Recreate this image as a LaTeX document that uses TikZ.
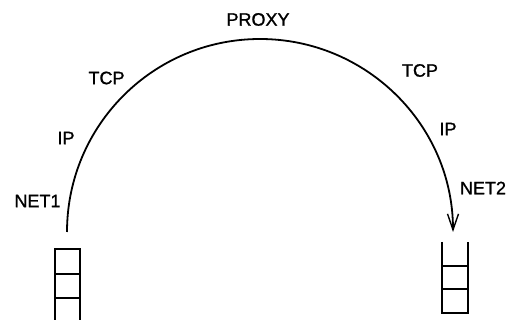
\documentclass[tikz,border=0pt]{standalone}
\usepackage{fontspec}
\setmainfont{Liberation Sans}[FakeBold=1.2]
\usetikzlibrary{arrows.meta}
\tikzset{
  lbl/.style={inner sep=0pt, font=\fontsize{18}{20}\selectfont},
  arcline/.style={line width=1.8pt},
  stackline/.style={line width=1.3pt},
}
\begin{document}
\begin{tikzpicture}[x=1pt,y=1pt]
\useasboundingbox (0,0) rectangle (511,320);
% labels
\node[lbl] (proxy) at (258,300.5) {PROXY};
\node[lbl] (tcpl) at (106.5,242) {TCP};
\node[lbl] (ipl) at (66,182) {IP};
\node[lbl] (net1) at (37.5,119) {NET1};
\node[lbl] (tcpr) at (420,249.5) {TCP};
\node[lbl] (ipr) at (448,191) {IP};
\node[lbl] (net2) at (483,132) {NET2};
% arc
\coordinate (arcstart) at (67,88);
\draw[arcline, -{Straight Barb[length=16pt,width=11pt,line width=1.4pt]}]
  (arcstart) arc[start angle=180, end angle=0, radius=193];
% left stack (open at bottom)
\draw[stackline] (55,0) -- (55,71) -- (80,71) -- (80,0);
\draw[stackline] (55,46) -- (80,46);
\draw[stackline] (55,22) -- (80,22);
% right stack (open at top)
\draw[stackline] (442,78) -- (442,7) -- (468,7) -- (468,78);
\draw[stackline] (442,54) -- (468,54);
\draw[stackline] (442,31) -- (468,31);
\end{tikzpicture}
\end{document}
